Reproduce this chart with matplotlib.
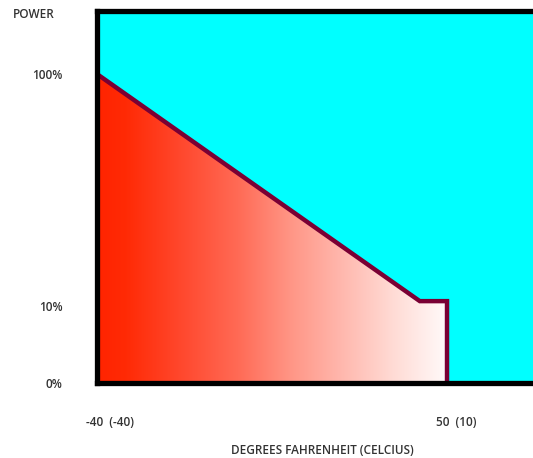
import numpy as np
import matplotlib
matplotlib.use("Agg")
import matplotlib.pyplot as plt
from matplotlib.colors import LinearSegmentedColormap
from matplotlib.patches import Polygon
import matplotlib.transforms as mtransforms

# Data (temperature in °F, power on the chart's drawn scale)
temps = [-40, 43, 50, 50, -40]
power = [100, 26.5, 26.5, 0, 0]
x_tick_pos = [-40, 50]
x_tick_labels = ["-40  (-40)", "50  (10)"]
y_tick_pos = [0, 25, 100]
y_tick_labels = ["0%", "10%", "100%"]

W, H = 533, 458
FONT = "Open Sans"
FS = 8.5
FW = 600
TC = "#333333"
fig = plt.figure(figsize=(W / 100, H / 100), dpi=100)
fig.patch.set_facecolor("white")
ax_w_px = (W - 97) + 50
ax = fig.add_axes([97 / W, (H - 383) / H, ax_w_px / W, (383 - 11) / H])
ax.set_facecolor("#00ffff")
ax.set_xlim(-40, -40 + ax_w_px / 3.889)
ax.set_ylim(0, 120.4)

# gradient fill clipped to polygon
cmap = LinearSegmentedColormap.from_list(
    "rw", [(0.0, "#ff2400"), (0.08, "#ff2a05"), (0.25, "#ff4a30"), (0.4, "#ff6a55"),
           (0.55, "#ff9585"), (0.7, "#ffb8ae"), (0.85, "#ffdcd6"), (1.0, "#fffafa")])
grad = np.linspace(0, 1, 256).reshape(1, -1)
im = ax.imshow(grad, extent=[min(temps), max(temps), 0, max(power)], aspect="auto",
               cmap=cmap, origin="lower", zorder=2)
poly = Polygon(np.column_stack([temps, power]), closed=True, facecolor="none",
               edgecolor="none", transform=ax.transData)
ax.add_patch(poly)
im.set_clip_path(poly)
ax.plot(temps[:4], power[:4], color="#7a0034", lw=3.2, solid_joinstyle="miter", zorder=3)

for s in ["left", "top", "bottom"]:
    ax.spines[s].set_linewidth(3.8)
    ax.spines[s].set_color("black")
    ax.spines[s].set_zorder(5)
ax.spines["right"].set_visible(False)

ax.set_xticks([])
ax.set_yticks(y_tick_pos)
ax.set_yticklabels(y_tick_labels, fontsize=FS, family=FONT, color=TC, fontweight=FW)
ax.tick_params(axis="y", length=0, pad=25)

# x labels, offset like the reference
trans = mtransforms.blended_transform_factory(ax.transData, fig.transFigure)
for xp, lab in zip(x_tick_pos, x_tick_labels):
    ax.text(xp, (H - 423) / H, lab, transform=trans + mtransforms.ScaledTranslation(-11 / 100, 0, fig.dpi_scale_trans),
            ha="left", va="center", fontsize=FS, family=FONT, color=TC, fontweight=FW)

fig.text(322 / W, (H - 450) / H, "DEGREES FAHRENHEIT (CELCIUS)", ha="center", va="center",
         fontsize=FS, family=FONT, color=TC, fontweight=FW)
fig.text(13 / W, (H - 14) / H, "POWER", ha="left", va="center",
         fontsize=FS, family=FONT, color=TC, fontweight=FW)

fig.savefig("out.png", dpi=100)
